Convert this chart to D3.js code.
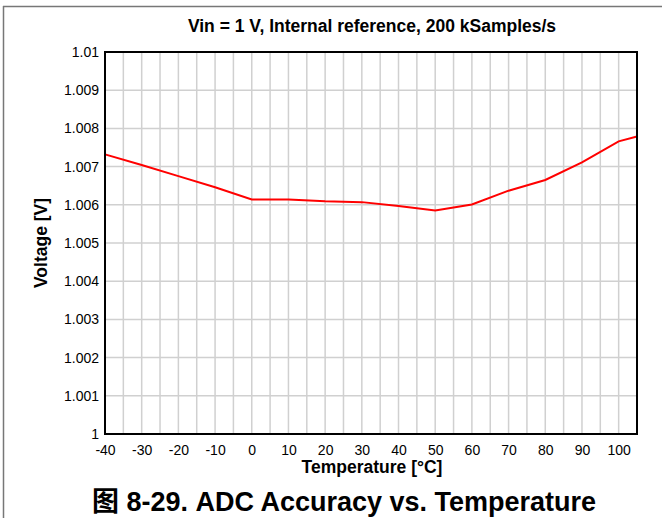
<!DOCTYPE html>
<html lang="en">
<head>
<meta charset="UTF-8">
<title>ADC Accuracy vs. Temperature</title>
<style>
  body { margin: 0; background: #fff; }
  svg text { font-family: "Liberation Sans", Arial, sans-serif; }
</style>
</head>
<body>
<svg id="chart" width="662" height="518"></svg>

<script src="https://d3js.org/d3.v7.min.js"></script>
<script>
// temperature [°C] and measured voltage [V]
var temps = [-40, -30, -20, -10, 0, 10, 20, 30, 40, 50, 60, 70, 80, 90, 100, 105];
var volts = [1.00732, 1.00704, 1.00675, 1.00646, 1.00614, 1.00614, 1.00609, 1.00607, 1.00597, 1.00585,
             1.00601, 1.00637, 1.00665, 1.00711, 1.00766, 1.00779];
var xTicks = [-40, -30, -20, -10, 0, 10, 20, 30, 40, 50, 60, 70, 80, 90, 100];
var yTicks = [1, 1.001, 1.002, 1.003, 1.004, 1.005, 1.006, 1.007, 1.008, 1.009, 1.01];
var xGrid = d3.range(-40, 106, 5);

var svg = d3.select("#chart"),
  pL = 105, pR = 637, pT = 52, pB = 434;

var x = d3.scaleLinear().domain([-40, 105]).range([pL, pR]);
var y = d3.scaleLinear().domain([1, 1.01]).range([pB, pT]);

// outer frame
svg.append("line").attr("x1", 3.5).attr("x2", 3.5).attr("y1", 6).attr("y2", 518)
  .attr("stroke", "#777").attr("stroke-width", 1.5);
svg.append("line").attr("x1", 3).attr("x2", 662).attr("y1", 6.5).attr("y2", 6.5)
  .attr("stroke", "#777").attr("stroke-width", 1.5);

// grid
svg.append("g").selectAll("line").data(xGrid).enter().append("line")
  .attr("x1", function (d) { return x(d); }).attr("x2", function (d) { return x(d); })
  .attr("y1", pT).attr("y2", pB)
  .attr("stroke", "#d0d0d0").attr("stroke-width", 1.5);
svg.append("g").selectAll("line").data(yTicks).enter().append("line")
  .attr("x1", pL).attr("x2", pR)
  .attr("y1", function (d) { return y(d); }).attr("y2", function (d) { return y(d); })
  .attr("stroke", "#d0d0d0").attr("stroke-width", 1.5);

// axes labels
var xAxis = svg.append("g").attr("transform", "translate(0," + pB + ")")
  .call(d3.axisBottom(x).tickValues(xTicks).tickSize(0).tickPadding(11)
    .tickFormat(function (d) { return String(d); }));
var yAxis = svg.append("g").attr("transform", "translate(" + pL + ",0)")
  .call(d3.axisLeft(y).tickValues(yTicks).tickSize(0).tickPadding(6)
    .tickFormat(function (d) { return String(+d.toFixed(3)); }));
[xAxis, yAxis].forEach(function (a) {
  a.select(".domain").remove();
  a.selectAll("text").attr("font-size", 14).attr("fill", "#000")
    .attr("font-family", "'Liberation Sans', Arial, sans-serif");
});

// data line
var line = d3.line()
  .x(function (d, i) { return x(temps[i]); })
  .y(function (d) { return y(d); });
svg.append("path").datum(volts)
  .attr("d", line)
  .attr("fill", "none").attr("stroke", "#ff0000").attr("stroke-width", 2);

// plot border
svg.append("rect").attr("x", pL).attr("y", pT)
  .attr("width", pR - pL).attr("height", pB - pT)
  .attr("fill", "none").attr("stroke", "#000").attr("stroke-width", 2);

// titles
svg.append("text").attr("x", 372).attr("y", 32)
  .attr("text-anchor", "middle").attr("font-size", 17.5).attr("font-weight", "bold")
  .text("Vin = 1 V, Internal reference, 200 kSamples/s");
svg.append("text").attr("x", 372).attr("y", 473)
  .attr("text-anchor", "middle").attr("font-size", 17.5).attr("font-weight", "bold")
  .text("Temperature [°C]");
svg.append("text").attr("transform", "translate(47," + (pT + pB) / 2 + ") rotate(-90)")
  .attr("text-anchor", "middle").attr("font-size", 17.5).attr("font-weight", "bold")
  .text("Voltage [V]");
svg.append("text").attr("x", 344).attr("y", 511)
  .attr("text-anchor", "middle").attr("font-size", 27).attr("font-weight", "bold")
  .style("font-family", "'Liberation Sans', 'Noto Sans CJK SC', sans-serif")
  .text("图 8-29. ADC Accuracy vs. Temperature");
</script>
</body>
</html>
